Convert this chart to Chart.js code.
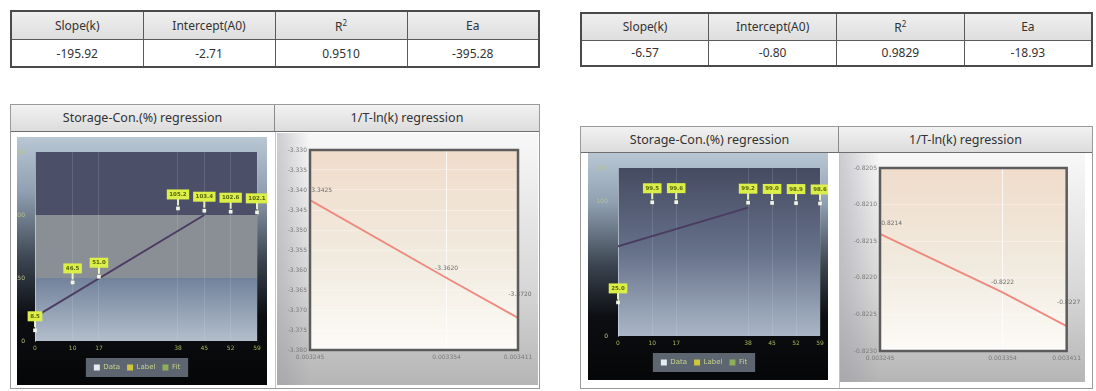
<!DOCTYPE html>
<html>
<head>
<meta charset="utf-8">
<script src="https://cdn.jsdelivr.net/npm/chart.js@4.4.0/dist/chart.umd.min.js"></script>
<style>
  html, body { margin: 0; padding: 0; background: #ffffff; }
  body { width: 1096px; height: 391px; position: relative; overflow: hidden; font-family: "Noto Sans", "DejaVu Sans", sans-serif; }
  table.summary { position: absolute; border-collapse: collapse; border: 2px solid #4a4a4a; table-layout: fixed; }
  table.summary th, table.summary td { border: 1px solid #5a5a5a; text-align: center; font-size: 12px; color: #333; padding: 0; }
  table.summary th { background: linear-gradient(#efefef, #dedede); font-weight: normal; }
  table.summary td { background: #ffffff; }
  table.summary sup { font-size: 8px; }
  .panel { position: absolute; border: 1px solid #9a9a9a; background: #ffffff; box-sizing: border-box; }
  .panel .head { position: absolute; left: 0; top: 0; right: 0; border-bottom: 1px solid #6e6e6e; background: linear-gradient(#f2f2f2, #dcdcdc); }
  .panel .head div { position: absolute; top: 0; bottom: 0; text-align: center; font-size: 12.5px; color: #333; }
  .panel .head div + div { border-left: 1px solid #8a8a8a; }
  .panel .split { position: absolute; bottom: 0; width: 1px; background: #c4c4c4; }
  canvas { position: absolute; display: block; }
</style>
</head>
<body>

<table class="summary" id="sumA" style="left:10px; top:10px; width:530px; height:58px;"></table>
<table class="summary" id="sumB" style="left:580px; top:12px; width:513px; height:55px;"></table>

<div class="panel" style="left:10px; top:104px; width:530px; height:285px;">
  <div class="head" style="height:26px;">
    <div style="left:0; width:263px; line-height:26px;">Storage-Con.(%) regression</div>
    <div style="left:263px; right:0; line-height:26px;">1/T-ln(k) regression</div>
  </div>
  <div class="split" style="left:264px; top:27px;"></div>
</div>
<div class="panel" style="left:580px; top:126px; width:513px; height:263px;">
  <div class="head" style="height:25px;">
    <div style="left:0; width:257px; line-height:25px;">Storage-Con.(%) regression</div>
    <div style="left:257px; right:0; line-height:25px;">1/T-ln(k) regression</div>
  </div>
  <div class="split" style="left:258px; top:26px;"></div>
</div>

<canvas id="storageA" width="250" height="248" style="left:17px; top:137px;"></canvas>
<canvas id="arrhA" width="261" height="252" style="left:277px; top:133px;"></canvas>
<canvas id="storageB" width="240" height="227" style="left:588px; top:153px;"></canvas>
<canvas id="arrhB" width="245" height="229" style="left:840px; top:153px;"></canvas>

<script>
// Regression summaries
const tableHeaders = ['Slope(k)', 'Intercept(A0)', 'R<sup>2</sup>', 'Ea'];
const summaryA = ['-195.92', '-2.71', '0.9510', '-395.28'];
const summaryB = ['-6.57', '-0.80', '0.9829', '-18.93'];

// Storage test: sampling days and measured content (%)
const storageDays = [0, 10, 17, 38, 45, 52, 59];
const conA = [8.5, 46.5, 51.0, 105.2, 103.4, 102.6, 102.1];
const conB = [25.0, 99.5, 99.6, 99.2, 99.0, 98.9, 98.6];
// Fitted regression segments
const fitDaysA = [0, 45];
const fitConA = [19.2, 100.0];
const fitDaysB = [0, 38];
const fitConB = [66.7, 95.5];
// Content axis ticks
const conTicksA = [0, 50, 100, 150];
const conTicksB = [0, 100, 125];
const legendNames = ['Data', 'Label', 'Fit'];

// Arrhenius plot: 1/T (1/K) against ln(k)
const invTemp = [0.003245, 0.003354, 0.003411];
const lnkA = [-3.3425, -3.3620, -3.3720];
const lnkB = [-0.82140, -0.82220, -0.82266];

// ---- tables ----
function fillTable(id, values) {
  const t = document.getElementById(id);
  const hr = t.insertRow();
  tableHeaders.forEach(h => { const th = document.createElement('th'); th.innerHTML = h; hr.appendChild(th); });
  const vr = t.insertRow();
  values.forEach(v => { const td = vr.insertCell(); td.textContent = v; });
}
fillTable('sumA', summaryA);
fillTable('sumB', summaryB);

// ---- storage charts ----
const legendSwatch = ['#e4ecf2', '#cfc63e', '#8fae5a'];

const storageBackdrop = {
  id: 'storageBackdrop',
  beforeDraw(chart, args, opts) {
    const { ctx, width, height, chartArea: a, scales: { y } } = chart;
    ctx.save();
    const g = ctx.createLinearGradient(0, 0, 0, height);
    g.addColorStop(0, '#b9c7d4');
    g.addColorStop(0.22, '#90a0b2');
    g.addColorStop(0.5, '#3a434f');
    g.addColorStop(0.72, '#0c0e12');
    g.addColorStop(1, '#050607');
    ctx.fillStyle = g;
    ctx.fillRect(0, 0, width, height);
    if (opts.banded) {
      const y100 = y.getPixelForValue(100), y50 = y.getPixelForValue(50);
      ctx.fillStyle = '#4b5068';
      ctx.fillRect(a.left, a.top, a.width, y100 - a.top);
      ctx.fillStyle = '#8a8f95';
      ctx.fillRect(a.left, y100, a.width, y50 - y100);
      const lg = ctx.createLinearGradient(0, y50, 0, a.bottom);
      lg.addColorStop(0, '#71829b');
      lg.addColorStop(1, '#b3becc');
      ctx.fillStyle = lg;
      ctx.fillRect(a.left, y50, a.width, a.bottom - y50);
    } else {
      const pg = ctx.createLinearGradient(0, a.top, 0, a.bottom);
      pg.addColorStop(0, '#454b61');
      pg.addColorStop(0.5, '#66718a');
      pg.addColorStop(1, '#aab6c7');
      ctx.fillStyle = pg;
      ctx.fillRect(a.left, a.top, a.width, a.height);
    }
    // legend backing plate
    const hb = chart.legend && chart.legend.legendHitBoxes;
    if (hb && hb.length) {
      const l = Math.min(...hb.map(b => b.left)) - 8;
      const r = Math.max(...hb.map(b => b.left + b.width)) + 8;
      const t = Math.min(...hb.map(b => b.top)) - 6;
      const bt = Math.max(...hb.map(b => b.top + b.height)) + 6;
      ctx.fillStyle = '#5d6571';
      ctx.fillRect(l, t, r - l, bt - t);
    }
    ctx.restore();
  }
};

const pointTags = {
  id: 'pointTags',
  afterDatasetsDraw(chart) {
    const { ctx } = chart;
    const meta = chart.getDatasetMeta(0);
    const ds = chart.data.datasets[0];
    ctx.save();
    ctx.font = 'bold 5.5px "DejaVu Sans"';
    ctx.textAlign = 'center';
    ctx.textBaseline = 'middle';
    meta.data.forEach((el, i) => {
      const txt = ds.data[i].y.toFixed(1);
      const x = el.x, y = el.y;
      ctx.strokeStyle = 'rgba(238,246,200,0.95)';
      ctx.lineWidth = 2;
      ctx.beginPath(); ctx.moveTo(x, y - 3); ctx.lineTo(x, y - 10); ctx.stroke();
      const w = ctx.measureText(txt).width + 5;
      ctx.fillStyle = '#dcef48';
      ctx.fillRect(x - w / 2, y - 19, w, 10);
      ctx.fillStyle = '#56640e';
      ctx.fillText(txt, x, y - 14);
    });
    ctx.restore();
  }
};

function storageChart(id, cons, fitX, fitY, yTicks, yMax, pad, yWidth, banded) {
  return new Chart(document.getElementById(id), {
    type: 'scatter',
    data: {
      datasets: [
        { label: 'Data', data: storageDays.map((d, i) => ({ x: d, y: cons[i] })),
          pointStyle: 'rect', pointRadius: 2.6, backgroundColor: '#f2f6e4', borderColor: '#f2f6e4', borderWidth: 0, clip: false, order: 0 },
        { label: 'Fit', type: 'line', data: fitX.map((d, i) => ({ x: d, y: fitY[i] })),
          borderColor: '#4b3c62', borderWidth: 2, pointRadius: 0, order: 1 }
      ]
    },
    options: {
      responsive: false, animation: false, events: [],
      layout: { padding: pad },
      plugins: {
        tooltip: { enabled: false },
        storageBackdrop: { banded },
        legend: {
          position: 'bottom',
          labels: {
            boxWidth: 6, boxHeight: 6, padding: 7, color: '#c8d48a',
            font: { size: 7, family: 'DejaVu Sans' },
            generateLabels: () => legendNames.map((t, i) => ({
              text: t, fillStyle: legendSwatch[i], strokeStyle: legendSwatch[i], lineWidth: 0, fontColor: '#c8d48a', hidden: false, datasetIndex: i
            }))
          }
        }
      },
      scales: {
        x: {
          type: 'linear', min: 0, max: 59,
          afterBuildTicks: s => { s.ticks = storageDays.map(v => ({ value: v })); },
          afterFit: s => { s.height = 16; },
          ticks: { color: '#a9b35a', font: { size: 6, family: 'DejaVu Sans' }, maxRotation: 0, padding: 4 },
          grid: { color: 'rgba(225,232,240,0.14)', drawTicks: false },
          border: { display: false }
        },
        y: {
          min: 0, max: yMax,
          afterBuildTicks: s => { s.ticks = yTicks.map(v => ({ value: v })); },
          afterFit: s => { s.width = yWidth; },
          ticks: { color: '#b7c48c', font: { size: 6, family: 'DejaVu Sans' }, padding: 2 },
          grid: { display: false },
          border: { color: 'rgba(215,225,235,0.55)', width: 1 }
        }
      }
    },
    plugins: [storageBackdrop, pointTags]
  });
}

storageChart('storageA', conA, fitDaysA, fitConA, conTicksA, 150, { top: 15, right: 10, bottom: 4, left: 0 }, 18, true);
storageChart('storageB', conB, fitDaysB, fitConB, conTicksB, 125, { top: 15, right: 8, bottom: 4, left: 0 }, 30, false);

// ---- Arrhenius charts ----
const arrhBackdrop = {
  id: 'arrhBackdrop',
  beforeDraw(chart) {
    const { ctx, width, height, chartArea: a } = chart;
    ctx.save();
    const g = ctx.createLinearGradient(0, 0, 0, height);
    g.addColorStop(0, '#f8f8f8');
    g.addColorStop(0.6, '#d8d8d8');
    g.addColorStop(1, '#b5b5b5');
    ctx.fillStyle = g;
    ctx.fillRect(0, 0, width, height);
    const sg = ctx.createLinearGradient(0, 0, a.left, 0);
    sg.addColorStop(0, 'rgba(150,150,162,0.45)');
    sg.addColorStop(1, 'rgba(150,150,162,0)');
    ctx.fillStyle = sg;
    ctx.fillRect(0, 0, a.left, height);
    const pg = ctx.createLinearGradient(0, a.top, 0, a.bottom);
    pg.addColorStop(0, '#f0dccb');
    pg.addColorStop(0.55, '#f1ebdf');
    pg.addColorStop(1, '#fdfbf8');
    ctx.fillStyle = pg;
    ctx.fillRect(a.left, a.top, a.width, a.height);
    ctx.restore();
  },
  afterDraw(chart) {
    const { ctx, chartArea: a } = chart;
    ctx.save();
    ctx.strokeStyle = '#5c5c5c';
    ctx.lineWidth = 2.5;
    ctx.strokeRect(a.left, a.top, a.width, a.height);
    ctx.restore();
  }
};

const valueTags = {
  id: 'valueTags',
  afterDatasetsDraw(chart) {
    const { ctx } = chart;
    const meta = chart.getDatasetMeta(0);
    const ds = chart.data.datasets[0];
    ctx.save();
    ctx.font = '6px "DejaVu Sans"';
    ctx.fillStyle = '#6d6d6d';
    ctx.textBaseline = 'middle';
    meta.data.forEach((el, i) => {
      const txt = ds.data[i].y.toFixed(4);
      const last = i === meta.data.length - 1;
      ctx.textAlign = i === 0 ? 'left' : 'center';
      ctx.fillText(txt, el.x + (last ? 2 : (i === 0 ? -1 : 0)), el.y - (last ? 24 : 10));
    });
    ctx.restore();
  }
};

function arrhChart(id, lnk, yMin, yMax, step, digits, pad, yWidth) {
  return new Chart(document.getElementById(id), {
    type: 'line',
    data: {
      datasets: [{ label: 'ln(k)', data: invTemp.map((x, i) => ({ x, y: lnk[i] })),
        borderColor: '#ee8a80', borderWidth: 2, pointRadius: 0, tension: 0 }]
    },
    options: {
      responsive: false, animation: false, events: [],
      layout: { padding: pad },
      plugins: { legend: { display: false }, tooltip: { enabled: false } },
      scales: {
        x: {
          type: 'linear', min: invTemp[0], max: invTemp[invTemp.length - 1],
          afterBuildTicks: s => { s.ticks = invTemp.map(v => ({ value: v })); },
          afterFit: s => { s.height = 14; },
          ticks: { color: '#7a7a7a', font: { size: 6, family: 'DejaVu Sans' }, maxRotation: 0, padding: 4, callback: v => v.toFixed(6) },
          grid: { color: 'rgba(255,255,255,0.75)', drawTicks: false },
          border: { display: false }
        },
        y: {
          min: yMin, max: yMax,
          afterFit: s => { s.width = yWidth; },
          ticks: { stepSize: step, color: '#7a7a7a', font: { size: 6, family: 'DejaVu Sans' }, padding: 3, callback: v => v.toFixed(digits) },
          grid: { color: 'rgba(255,255,255,0.35)', drawTicks: false },
          border: { display: false }
        }
      }
    },
    plugins: [arrhBackdrop, valueTags]
  });
}

arrhChart('arrhA', lnkA, -3.38, -3.33, 0.005, 3, { top: 17, right: 20, bottom: 21, left: 0 }, 33);
arrhChart('arrhB', lnkB, -0.8230, -0.8205, 0.0005, 4, { top: 15, right: 8, bottom: 17, left: 0 }, 40);
</script>
</body>
</html>
